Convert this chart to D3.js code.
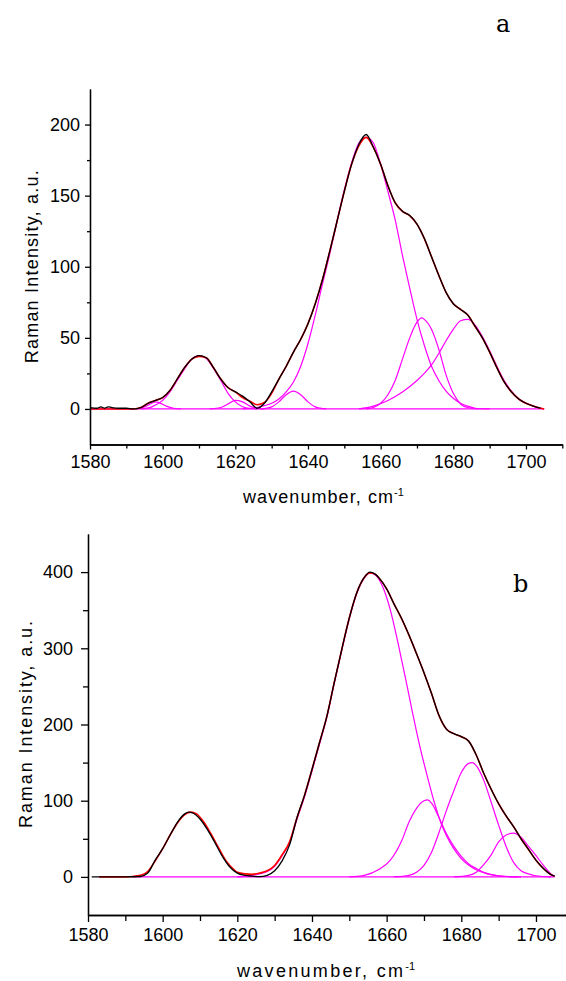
<!DOCTYPE html>
<html>
<head>
<meta charset="utf-8">
<script src="https://cdn.jsdelivr.net/npm/d3@7.9.0/dist/d3.min.js"></script>
<style>
  html, body { margin: 0; padding: 0; background: #fff; }
  svg { display: block; }
  .tick text { font-family: "Liberation Sans", Arial, sans-serif; font-size: 18px; fill: #000; }
  .title { font-family: "Liberation Sans", Arial, sans-serif; font-size: 18px; fill: #000; }
  .panel-letter { font-family: "DejaVu Serif", serif; font-size: 24px; fill: #000; }
</style>
</head>
<body>
<svg id="chart" width="566" height="981"></svg>
<script>
// ---- panel a : spectrum (black), fit (red), bands (magenta) ----
const aMeasured = [[1580,1],[1582,0.5],[1583,1.5],[1584,0.5],[1585,1.5],[1586,1],[1588,0.5],[1590,0.5],[1592,0],
  [1594,1],[1596,4],[1598,6],[1600,8],[1602,13],[1604,21],[1606,29],[1608,35],[1610,37.5],[1612,36],[1614,29],
  [1616,21],[1618,15],[1620,12],[1622,9],[1624,5],[1626,0.5],[1628,4],[1630,12],[1632,21],[1634,30],[1636,40],
  [1638,49],[1640,60],[1642,74],[1644,91],[1646,111],[1648,132],[1650,153],[1652,172],[1654,186],[1656,193],
  [1658,184],[1660,172],[1662,157],[1664,145],[1666,139],[1668,136],[1670,130],[1672,120],[1674,107],[1676,94],
  [1678,82],[1680,74],[1682,70],[1684,66],[1686,58],[1688,50],[1690,40],[1692,29],[1694,19],[1696,12],[1698,7],
  [1700,4],[1702,2],[1704,0.5]];
const aFit = [[1580,0],[1592,0],[1594,1],[1596,4],[1598,6],[1600,8],[1602,13],[1604,21],[1606,29],[1608,35],
  [1610,37],[1612,36],[1614,29],[1616,21],[1618,15],[1620,12],[1622,8],[1624,5.5],[1626,3],[1628,4.5],[1630,11],
  [1632,21],[1634,30],[1636,40],[1638,49],[1640,60],[1642,74],[1644,91],[1646,111],[1648,132],[1650,153],
  [1652,172],[1654,185],[1656,191],[1658,184],[1660,172],[1662,157],[1664,145],[1666,139],[1668,136],[1670,130],
  [1672,120],[1674,107],[1676,94],[1678,82],[1680,74],[1682,70],[1684,66],[1686,58],[1688,50],[1690,40],
  [1692,29],[1694,19],[1696,12],[1698,7],[1700,4],[1702,2],[1704,0.5],[1705,0]];
const aBand1598 = [[1593,0],[1595,1.5],[1597,4],[1598,5],[1599,4.5],[1601,2],[1603,0.5],[1605,0]];
const aBand1610 = [[1594,0],[1597,1.5],[1600,6],[1602,12],[1604,20],[1606,28],[1608,35],[1610,37.5],[1612,35.5],
  [1614,28.5],[1616,20],[1618,11],[1620,5],[1622,1.5],[1624,0.3],[1626,0]];
const aBand1620 = [[1613,0],[1616,1],[1618,3.5],[1620,6],[1622,5],[1624,2],[1626,0.5],[1628,0]];
const aBand1636 = [[1627,0],[1630,1.5],[1632,5],[1634,10],[1636,12.5],[1638,10],[1640,5],[1642,1.5],[1645,0]];
const aBand1656 = [[1622,0],[1626,1],[1628,2.3],[1630,4],[1632,7],[1634,12],[1636,19],[1638,30],[1640,46],
  [1642,66],[1644,88],[1646,109],[1648,132],[1650,154],[1652,173],[1654,187],[1656,191],[1658,187],[1660,172],
  [1662,153],[1664,133],[1666,108],[1668,85],[1670,63],[1672,45],[1674,30],[1676,20],[1678,12.5],[1680,7.5],
  [1682,4],[1684,2],[1686,0.5],[1690,0]];
const aBand1671 = [[1656,0],[1658,1],[1660,4],[1662,10],[1664,20],[1666,35],[1668,50],[1670,61],[1671.3,64],
  [1672,63],[1674,56],[1676,42],[1678,24],[1680,11],[1682,3.5],[1684,1],[1687,0]];
const aBand1684 = [[1654,0],[1658,2],[1662,6],[1666,12],[1670,20],[1672,25],[1674,31],[1676,39],[1678,48],
  [1680,56],[1682,62],[1684,63],[1686,59],[1688,51],[1690,41],[1692,30],[1694,20],[1696,12.5],[1698,7],
  [1700,4],[1702,2],[1704,0.5],[1705,0]];
const aBaseline = [[1580,0],[1705,0]];

// ---- panel b ----
const bMeasured = [[1581,0],[1590,0],[1594,0.5],[1596,5],[1598,22],[1600,37],[1602,55],[1604,72],[1606,83],
  [1607,85],[1608,84],[1610,76],[1612,62],[1614,45],[1616,27],[1618,13],[1620,5],[1622,2],[1624,1],[1626,0.3],
  [1628,2],[1630,8],[1632,21],[1634,42],[1636,78],[1638,107],[1640,141],[1642,176],[1644,211],[1646,256],
  [1648,299],[1650,340],[1652,373],[1654,393],[1655.5,400],[1657,397],[1658,392],[1660,378],[1662,358],
  [1664,339],[1666,317],[1668,293],[1670,268],[1672,241],[1674,212],[1676,194],[1678,188],[1680,184],[1682,178],
  [1684,160],[1686,136],[1688,115],[1690,96],[1692,80],[1694,66],[1696,50],[1698,36],[1700,22],[1702,11],
  [1704,3],[1705,1]];
const bFit = [[1583,0],[1590,0],[1592,0.5],[1594,2],[1596,7],[1598,21],[1600,37],[1602,55],[1604,71],[1606,82],
  [1607.5,85],[1609,83],[1611,72],[1613,56],[1615,38],[1617,21],[1619,10],[1620,6],[1622,4],[1624,3.5],
  [1626,5],[1628,8],[1630,15],[1632,29],[1634,46],[1636,78],[1638,107],[1640,141],[1642,176],[1644,211],
  [1646,256],[1648,299],[1650,340],[1652,373],[1654,393],[1655.5,399],[1657,397],[1658,392],[1660,378],
  [1662,358],[1664,339],[1666,317],[1668,293],[1670,268],[1672,241],[1674,212],[1676,194],[1678,188],[1680,184],
  [1682,178],[1684,160],[1686,136],[1688,115],[1690,96],[1692,80],[1694,66],[1696,50],[1698,36],[1700,22],
  [1702,11],[1704,3],[1705,1]];
const bBand1655 = [[1620,0],[1624,2],[1626,4],[1628,7],[1630,14],[1632,28],[1634,45],[1636,76],[1638,105],
  [1640,139],[1642,174],[1644,210],[1646,255],[1648,298],[1650,339],[1652,372],[1654,392],[1655.5,399],
  [1657,396],[1659,380],[1661,350],[1663,308],[1665,262],[1667,214],[1669,169],[1671,130],[1673,94],[1675,65],
  [1677,45],[1679,30],[1681,19],[1683,12],[1685,7],[1687,4],[1690,1.5],[1695,0]];
const bBand1671 = [[1650,0],[1654,2],[1658,10],[1661,22],[1664,47],[1666,72],[1668,90],[1670,100],[1671,101],
  [1672,97],[1674,78],[1676,57],[1678,40],[1680,27],[1682,17],[1684,11],[1686,6],[1688,3],[1692,0.5],[1696,0]];
const bBand1683 = [[1662,0],[1666,2],[1668,6],[1670,15],[1672,32],[1674,58],[1676,87],[1678,113],[1680,137],
  [1682,149],[1683,150],[1684,146],[1686,127],[1688,98],[1690,68],[1692,40],[1694,19],[1696,8],[1698,4],
  [1700,1.5],[1704,0]];
const bBand1694 = [[1678,0],[1682,2],[1684,6],[1686,16],[1688,29],[1690,46],[1692,55],[1694,57.5],[1696,52],
  [1698,40],[1700,28],[1702,15],[1704,4],[1705,1]];
const bBaseline = [[1592,0],[1705,0]];

// ---- axes ticks ----
const xMajor = [1580, 1600, 1620, 1640, 1660, 1680, 1700];
const xMinor = [1590, 1610, 1630, 1650, 1670, 1690, 1710];
const aYMajor = [0, 50, 100, 150, 200];
const aYMinor = [25, 75, 125, 175];
const bYMajor = [0, 100, 200, 300, 400];
const bYMinor = [50, 150, 250, 350];

const svg = d3.select("#chart");

function drawPanel(cfg) {
  const x = d3.scaleLinear().domain([1580, 1710]).range([cfg.left, cfg.right]);
  const y = d3.scaleLinear().domain(cfg.yDomain).range([cfg.bottom, cfg.top]);
  const g = svg.append("g");

  const line = d3.line()
    .x(d => x(d[0]))
    .y(d => y(d[1]))
    .curve(d3.curveMonotoneX);

  // magenta bands + baseline first, then fit, then measured on top
  cfg.bands.forEach(b => {
    g.append("path").attr("d", line(b))
      .attr("fill", "none").attr("stroke", "#ff00ff").attr("stroke-width", 1.2);
  });
  g.append("path").attr("d", line(cfg.fit))
    .attr("fill", "none").attr("stroke", "#ff0000").attr("stroke-width", 1.6);
  g.append("path").attr("d", line(cfg.measured))
    .attr("fill", "none").attr("stroke", "#000").attr("stroke-width", 1.3);

  // x axis
  const gx = g.append("g").attr("transform", `translate(0,${cfg.bottom})`);
  gx.call(d3.axisBottom(x).tickValues(xMajor).tickFormat(d3.format("d"))
    .tickSize(cfg.tick).tickSizeOuter(0).tickPadding(cfg.xPad));
  gx.append("g").call(d3.axisBottom(x).tickValues(xMinor).tickFormat("")
    .tickSize(cfg.tick - 1).tickSizeOuter(0));

  // y axis
  const gy = g.append("g").attr("transform", `translate(${cfg.left},0)`);
  gy.call(d3.axisLeft(y).tickValues(cfg.yMajor).tickFormat(d3.format("d"))
    .tickSize(cfg.tick).tickSizeOuter(0).tickPadding(cfg.yPad));
  gy.append("g").call(d3.axisLeft(y).tickValues(cfg.yMinor).tickFormat("")
    .tickSize(cfg.tick - 2).tickSizeOuter(0));

  g.selectAll(".domain, .tick line").attr("stroke", "#000").attr("stroke-width", 1.3);

  // axis titles
  g.append("text").attr("class", "title")
    .attr("transform", `translate(${cfg.yTitleX},${(cfg.top + cfg.bottom) / 2}) rotate(-90)`)
    .attr("text-anchor", "middle")
    .attr("textLength", cfg.yTitleLen).attr("lengthAdjust", "spacing")
    .text("Raman Intensity, a.u.");

  const xt = g.append("text").attr("class", "title")
    .attr("x", cfg.xTitleX).attr("y", cfg.xTitleY);
  xt.append("tspan").text("wavenumber, cm")
    .attr("textLength", cfg.xTitleLen).attr("lengthAdjust", "spacing");
  xt.append("tspan").text("-1").attr("font-size", "11px").attr("dy", "-7");

  g.append("text").attr("class", "panel-letter")
    .attr("x", cfg.letterX).attr("y", cfg.letterY).text(cfg.letter);
}

drawPanel({
  left: 90, right: 562.3, top: 89, bottom: 444.5,
  yDomain: [-25, 225], yMajor: aYMajor, yMinor: aYMinor,
  measured: aMeasured, fit: aFit,
  bands: [aBaseline, aBand1598, aBand1610, aBand1620, aBand1636, aBand1656, aBand1671, aBand1684],
  tick: 5, xPad: 6, yPad: 5,
  yTitleX: 38, yTitleLen: 193,
  xTitleX: 243, xTitleY: 503, xTitleLen: 150,
  letter: "a", letterX: 496, letterY: 32
});

drawPanel({
  left: 88, right: 573.3, top: 534, bottom: 915,
  yDomain: [-50, 450], yMajor: bYMajor, yMinor: bYMinor,
  measured: bMeasured, fit: bFit,
  bands: [bBaseline, bBand1655, bBand1671, bBand1683, bBand1694],
  tick: 7, xPad: 6, yPad: 8,
  yTitleX: 32, yTitleLen: 207,
  xTitleX: 237, xTitleY: 977, xTitleLen: 166,
  letter: "b", letterX: 513, letterY: 592
});
</script>
</body>
</html>
